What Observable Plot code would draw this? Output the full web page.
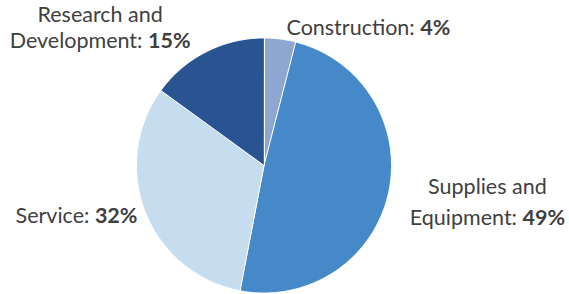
<!DOCTYPE html>
<html><head><meta charset="utf-8">
<script src="https://cdn.jsdelivr.net/npm/d3@7"></script>
<script src="https://cdn.jsdelivr.net/npm/@observablehq/plot@0.6"></script>
<style>
html,body{margin:0;padding:0;background:#fff;}
</style>
</head><body>
<div id="chart"></div>
<script>
const categories = ["Construction", "Supplies and Equipment", "Service", "Research and Development"];
const shares = [4, 49, 32, 15];
const labelTexts = ["Construction: 4%", "Supplies and\nEquipment: 49%", "Service: 32%", "Research and\nDevelopment: 15%"];
const colors = ["#8ea6d0", "#4689c8", "#c6ddf0", "#2a5391"];

const total = d3.sum(shares);
let acc = 0;
const slices = categories.map((name, i) => {
  const a0 = acc / total * 2 * Math.PI;
  acc += shares[i];
  const a1 = acc / total * 2 * Math.PI;
  return {name, a0, a1, mid: (a0 + a1) / 2, label: labelTexts[i]};
});
const points = [];
for (const s of slices) {
  points.push({name: s.name, x: 0, y: 0});
  const n = Math.max(2, Math.ceil((s.a1 - s.a0) / (Math.PI / 360)));
  for (let k = 0; k <= n; k++) {
    const a = s.a0 + (s.a1 - s.a0) * k / n;
    points.push({name: s.name, x: Math.sin(a), y: Math.cos(a)});
  }
}
const labelPts = slices.map(s => ({name: s.name, label: s.label, x: Math.sin(s.mid), y: Math.cos(s.mid)}));

const labelStyle = [
  {anchor: "start", dx: 6.5, dy: -12.5, lh: 1.2},
  {anchor: "middle", dx: 99, dy: 6.5, lh: 1.43},
  {anchor: "end", dx: -8, dy: 2, lh: 1.2},
  {anchor: "middle", dx: -106, dy: -25.5, lh: 1.2}
];

const textMarks = labelPts.map((d, i) => Plot.text([d], {
  x: "x", y: "y", text: "label",
  textAnchor: labelStyle[i].anchor, dx: labelStyle[i].dx, dy: labelStyle[i].dy,
  lineHeight: labelStyle[i].lh,
  fontSize: 21.5, fill: "#404040", fontFamily: "Lato, Carlito, sans-serif"
}));

const chart = Plot.plot({
  width: 569, height: 294, margin: 0,
  style: {background: "#fff", fontFamily: "Lato, sans-serif"},
  x: {domain: [-1, 1], range: [136, 391], axis: null},
  y: {domain: [-1, 1], range: [292.5, 37.5], axis: null},
  color: {domain: categories, range: colors},
  marks: [
    Plot.line(points, {x: "x", y: "y", z: "name", fill: "name", stroke: "#fff", strokeWidth: 1, curve: "linear-closed"}),
    ...textMarks
  ]
});
document.getElementById("chart").appendChild(chart);

// bold percentages
chart.querySelectorAll("text").forEach(t => {
  const targets = t.querySelectorAll("tspan").length ? Array.from(t.querySelectorAll("tspan")) : [t];
  targets.forEach(node => {
    const m = node.textContent.match(/^(.*?)(\d+%)$/);
    if (!m) return;
    node.textContent = m[1];
    const b = document.createElementNS("http://www.w3.org/2000/svg", "tspan");
    b.setAttribute("font-weight", "bold");
    b.textContent = m[2];
    node.appendChild(b);
  });
});
</script>
</body></html>
